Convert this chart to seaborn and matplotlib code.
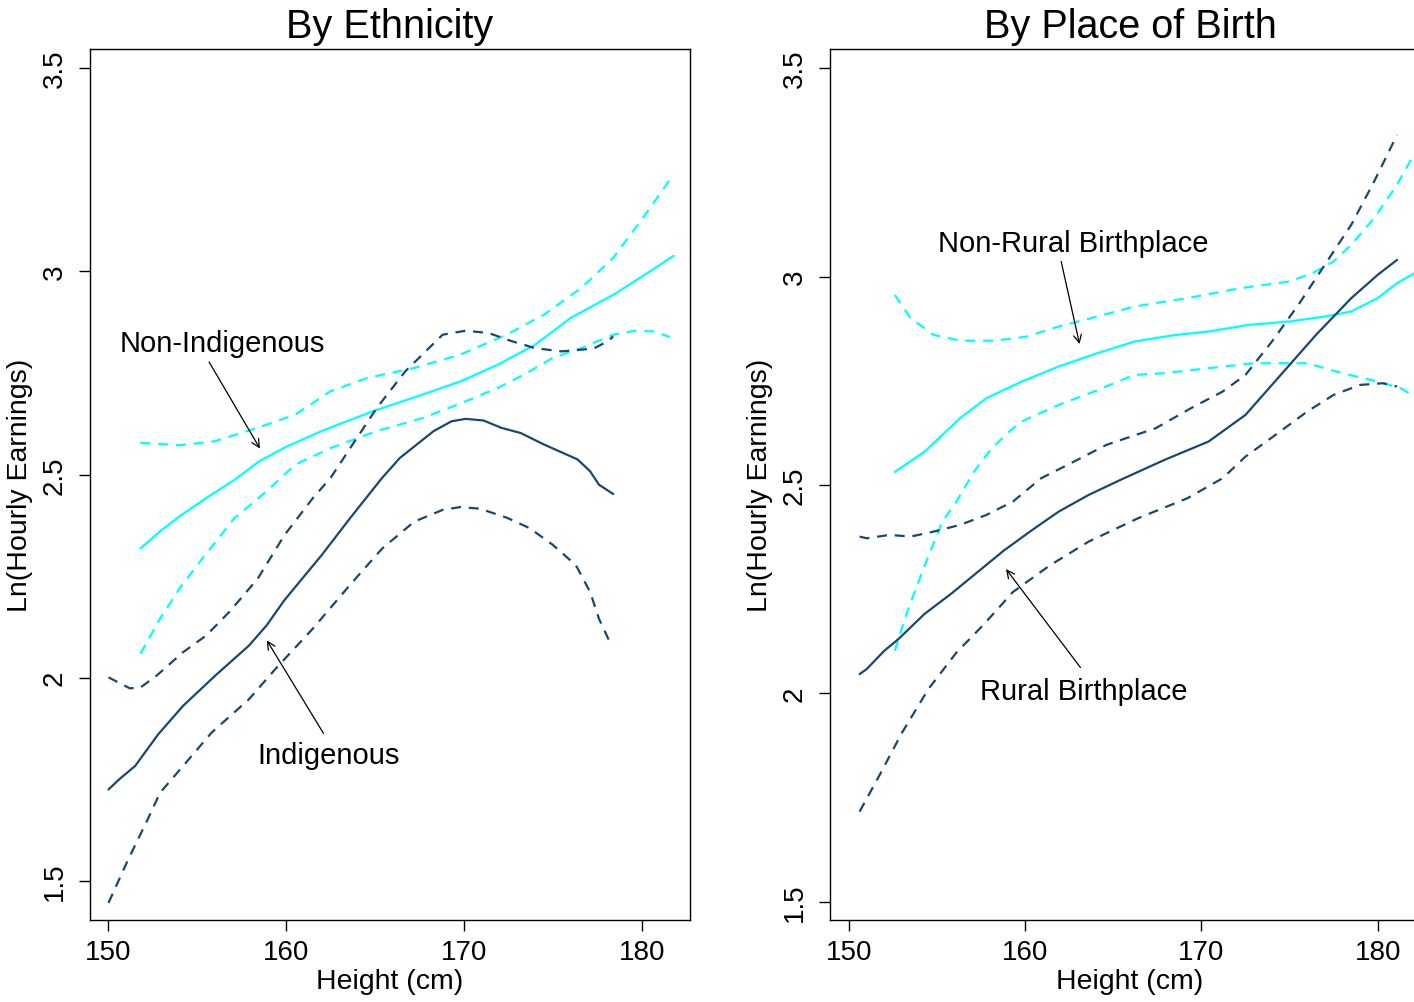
import numpy as np
import pandas as pd
import matplotlib
matplotlib.use("Agg")
import matplotlib.pyplot as plt
import seaborn as sns

# ---------------- data ----------------
# Panel 1: By Ethnicity
nonind_x = [151.8, 152.9, 154.0, 155.5, 157.1, 158.5, 160.0, 162.0, 164.9, 167.7, 169.8, 171.9, 174.0, 176.0, 178.4, 180.2, 181.8]
nonind_y = [2.318, 2.360, 2.397, 2.442, 2.487, 2.533, 2.568, 2.607, 2.656, 2.697, 2.729, 2.770, 2.819, 2.885, 2.942, 2.992, 3.038]
nonind_up_x = [151.8, 154.0, 156.0, 158.4, 160.5, 162.5, 164.6, 167.2, 169.8, 172.4, 174.5, 176.6, 178.4, 180.2, 181.8]
nonind_up_y = [2.578, 2.572, 2.582, 2.615, 2.647, 2.705, 2.738, 2.762, 2.795, 2.844, 2.893, 2.959, 3.033, 3.139, 3.238]
nonind_lo_x = [151.8, 152.9, 154.0, 155.3, 157.1, 158.9, 160.5, 162.5, 165.1, 167.7, 170.1, 171.9, 173.4, 175.0, 176.6, 178.4, 179.7, 180.7, 181.6]
nonind_lo_y = [2.059, 2.145, 2.220, 2.294, 2.393, 2.459, 2.524, 2.565, 2.607, 2.639, 2.680, 2.713, 2.746, 2.787, 2.811, 2.844, 2.854, 2.852, 2.838]

ind_x = [150.0, 150.6, 151.5, 152.8, 154.2, 156.0, 157.9, 158.9, 159.9, 162.0, 163.6, 165.4, 166.4, 168.3, 169.3, 170.1, 171.1, 172.1, 173.2, 174.5, 176.4, 177.1, 177.6, 178.4]
ind_y = [1.725, 1.750, 1.783, 1.861, 1.931, 2.005, 2.079, 2.129, 2.191, 2.302, 2.393, 2.492, 2.541, 2.607, 2.631, 2.637, 2.633, 2.615, 2.602, 2.574, 2.537, 2.508, 2.475, 2.452]
ind_up_x = [150.0, 151.2, 151.8, 152.7, 154.2, 155.5, 156.8, 158.4, 159.9, 161.5, 162.5, 163.6, 165.1, 166.7, 168.8, 170.1, 171.4, 172.7, 174.0, 175.5, 177.3, 178.1, 178.4]
ind_up_y = [2.001, 1.974, 1.976, 2.005, 2.063, 2.104, 2.162, 2.244, 2.351, 2.442, 2.492, 2.565, 2.664, 2.754, 2.844, 2.854, 2.848, 2.828, 2.811, 2.803, 2.810, 2.828, 2.840]
ind_lo_x = [150.0, 151.1, 152.2, 152.9, 154.2, 155.8, 157.9, 159.4, 161.5, 163.6, 165.4, 167.2, 168.8, 169.8, 170.9, 172.4, 173.7, 175.0, 176.3, 177.1, 177.6, 178.3]
ind_lo_y = [1.446, 1.552, 1.651, 1.717, 1.783, 1.865, 1.947, 2.022, 2.121, 2.229, 2.318, 2.384, 2.413, 2.420, 2.416, 2.394, 2.368, 2.327, 2.277, 2.211, 2.145, 2.079]

# Panel 2: By Place of Birth
nonrur_x = [152.6, 154.3, 156.3, 157.8, 159.8, 161.9, 164.1, 166.2, 168.4, 170.4, 172.7, 175.0, 177.0, 178.5, 180.0, 181.1, 182.1]
nonrur_y = [2.531, 2.580, 2.660, 2.708, 2.748, 2.784, 2.816, 2.844, 2.859, 2.868, 2.884, 2.892, 2.904, 2.916, 2.948, 2.984, 3.008]
nonrur_up_x = [152.6, 153.5, 154.8, 156.3, 158.3, 160.1, 161.9, 164.1, 166.2, 169.2, 172.2, 175.0, 176.3, 177.5, 178.5, 179.8, 181.1, 182.1]
nonrur_up_y = [2.956, 2.900, 2.860, 2.846, 2.846, 2.856, 2.880, 2.904, 2.928, 2.948, 2.972, 2.988, 3.008, 3.036, 3.076, 3.140, 3.220, 3.296]
nonrur_lo_x = [152.6, 153.3, 154.3, 155.3, 156.1, 157.1, 158.1, 159.1, 159.8, 161.9, 163.9, 166.2, 167.9, 170.4, 173.0, 176.0, 178.0, 180.0, 181.3, 182.1]
nonrur_lo_y = [2.102, 2.195, 2.307, 2.412, 2.460, 2.532, 2.588, 2.628, 2.652, 2.692, 2.724, 2.764, 2.768, 2.780, 2.792, 2.792, 2.768, 2.748, 2.732, 2.712]

rur_x = [150.6, 151.0, 152.0, 152.8, 154.3, 155.8, 157.3, 158.8, 160.4, 161.9, 163.6, 165.4, 167.9, 170.4, 172.5, 174.5, 176.5, 178.5, 180.0, 181.1]
rur_y = [2.046, 2.058, 2.102, 2.130, 2.191, 2.239, 2.291, 2.343, 2.392, 2.436, 2.476, 2.512, 2.560, 2.604, 2.668, 2.764, 2.860, 2.948, 3.004, 3.040]
rur_up_x = [150.6, 151.0, 152.3, 153.5, 154.8, 156.3, 157.8, 159.3, 160.9, 162.4, 164.6, 167.4, 169.4, 171.2, 172.5, 174.0, 175.5, 177.0, 178.5, 179.8, 181.1]
rur_up_y = [2.376, 2.372, 2.380, 2.376, 2.388, 2.404, 2.428, 2.460, 2.516, 2.548, 2.596, 2.636, 2.684, 2.724, 2.764, 2.844, 2.932, 3.028, 3.124, 3.228, 3.340]
rur_lo_x = [150.6, 151.8, 153.0, 154.5, 156.1, 157.6, 159.3, 161.4, 163.6, 166.4, 169.2, 171.2, 172.5, 174.2, 176.0, 177.5, 179.0, 180.3, 181.1]
rur_lo_y = [1.716, 1.809, 1.905, 2.010, 2.098, 2.163, 2.243, 2.307, 2.364, 2.420, 2.468, 2.516, 2.568, 2.620, 2.676, 2.716, 2.740, 2.744, 2.736]

titles = ["By Ethnicity", "By Place of Birth"]
x_ticks = [150, 160, 170, 180]
y_ticks = [1.5, 2, 2.5, 3, 3.5]
y_ticklabels = ["1.5", "2", "2.5", "3", "3.5"]
x_label = "Height (cm)"
y_label = "Ln(Hourly Earnings)"

CYAN = "#00FFFF"
NAVY = "#1A476F"

# ---------------- style ----------------
sns.set_theme(style="white")
plt.rcParams["font.family"] = ["Liberation Sans", "DejaVu Sans"]
plt.rcParams["axes.edgecolor"] = "black"
plt.rcParams["axes.linewidth"] = 1.0
plt.rcParams["text.color"] = "black"
plt.rcParams["axes.labelcolor"] = "black"
plt.rcParams["xtick.color"] = "black"
plt.rcParams["ytick.color"] = "black"

fig = plt.figure(figsize=(14.14, 10.03), dpi=100)
W, H = 1414.0, 1003.0
ax1 = fig.add_axes([90 / W, (H - 921) / H, 600 / W, (921 - 50) / H])
ax2 = fig.add_axes([830 / W, (H - 921) / H, 600 / W, (921 - 50) / H])


def draw(ax, x, y, color, dashed):
    df = pd.DataFrame({"x": x, "y": y})
    sns.lineplot(data=df, x="x", y="y", ax=ax, color=color, sort=False,
                 linewidth=1.6, linestyle="--" if dashed else "-",
                 dashes=False, estimator=None)
    line = ax.lines[-1]
    line.set_solid_joinstyle("round")
    line.set_dash_joinstyle("round")
    if dashed:
        line.set_dashes((4.5, 3.5))


# Panel 1
draw(ax1, nonind_up_x, nonind_up_y, CYAN, True)
draw(ax1, nonind_lo_x, nonind_lo_y, CYAN, True)
draw(ax1, nonind_x, nonind_y, CYAN, False)
draw(ax1, ind_up_x, ind_up_y, NAVY, True)
draw(ax1, ind_lo_x, ind_lo_y, NAVY, True)
draw(ax1, ind_x, ind_y, NAVY, False)

# Panel 2
draw(ax2, nonrur_up_x, nonrur_up_y, CYAN, True)
draw(ax2, nonrur_lo_x, nonrur_lo_y, CYAN, True)
draw(ax2, nonrur_x, nonrur_y, CYAN, False)
draw(ax2, rur_up_x, rur_up_y, NAVY, True)
draw(ax2, rur_lo_x, rur_lo_y, NAVY, True)
draw(ax2, rur_x, rur_y, NAVY, False)

ax1.set_xlim(148.96, 182.72)
ax1.set_ylim(1.404, 3.547)
ax2.set_xlim(148.92, 182.97)
ax2.set_ylim(1.456, 3.546)

for ax, title in zip([ax1, ax2], titles):
    ax.set_title(title, fontsize=28.5, pad=9, color="black")
    ax.set_xticks(x_ticks)
    ax.set_xticklabels([str(t) for t in x_ticks])
    ax.set_yticks(y_ticks)
    ax.set_yticklabels(y_ticklabels, rotation=90, va="center")
    ax.tick_params(axis="both", direction="out", length=8, width=1.0,
                   labelsize=20, colors="black", left=True, bottom=True)
    ax.tick_params(axis="x", pad=6)
    ax.tick_params(axis="y", pad=8)
    ax.set_xlabel(x_label, fontsize=20.5, labelpad=2)
    ax.set_ylabel(y_label, fontsize=20.5, labelpad=6)
    for s in ax.spines.values():
        s.set_visible(True)
        s.set_color("black")
        s.set_linewidth(1.0)
    ax.grid(False)

arrow = dict(arrowstyle="->", color="black", lw=0.9, shrinkA=0, shrinkB=0,
             mutation_scale=14)
FS = 21
ax1.annotate("", xy=(158.52, 2.564), xytext=(155.66, 2.777), arrowprops=arrow)
ax1.text(150.65, 2.824, "Non-Indigenous", fontsize=FS, ha="left", va="center")
ax1.annotate("", xy=(158.91, 2.092), xytext=(162.10, 1.863), arrowprops=arrow)
ax1.text(158.38, 1.809, "Indigenous", fontsize=FS, ha="left", va="center")

ax2.annotate("", xy=(163.08, 2.838), xytext=(162.04, 3.036), arrowprops=arrow)
ax2.text(155.05, 3.080, "Non-Rural Birthplace", fontsize=FS, ha="left", va="center")
ax2.annotate("", xy=(158.91, 2.298), xytext=(163.13, 2.062), arrowprops=arrow)
ax2.text(157.45, 2.006, "Rural Birthplace", fontsize=FS, ha="left", va="center")

fig.savefig("out.png", dpi=100)
